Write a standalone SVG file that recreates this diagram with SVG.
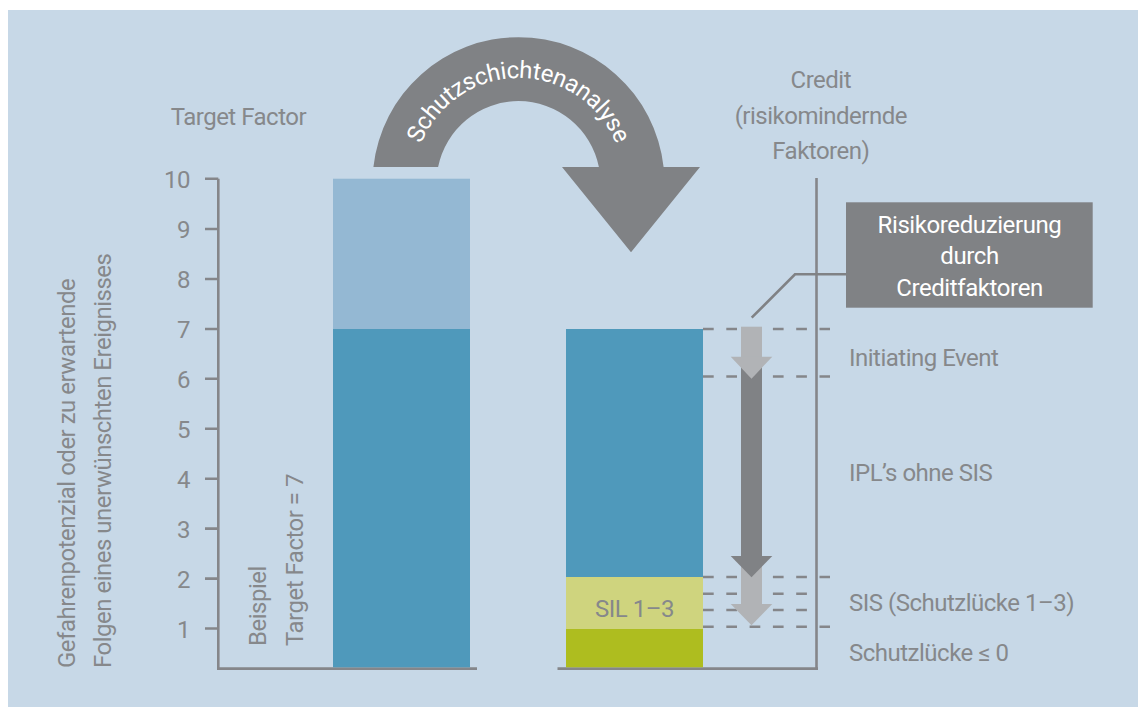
<svg xmlns="http://www.w3.org/2000/svg" width="1138" height="707" viewBox="0 0 1138 707">
<defs>
<style>
.t{font-family:Roboto,"Liberation Sans",sans-serif;font-size:24px;letter-spacing:-0.5px;fill:#86888b}
.w{font-family:Roboto,"Liberation Sans",sans-serif;font-size:24px;letter-spacing:-0.4px;fill:#ffffff}
.ax{stroke:#85868a;stroke-width:2.6;fill:none}
.dash{stroke:#85868a;stroke-width:2.6;fill:none;stroke-dasharray:10.7 12.6}
.dk{fill:#808285}
.lt{fill:#b1b3b6}
</style>
<path id="arcText" d="M 413.5 183 A 105 105 0 0 1 623.5 183"/>
</defs>
<rect x="8" y="10" width="1130" height="697" fill="#c7d8e7"/>

<g id="y-axis-label">
<text class="t" transform="translate(75,668) rotate(-90)">Gefahrenpotenzial oder zu erwartende</text>
<text class="t" transform="translate(111,668) rotate(-90)">Folgen eines unerwünschten Ereignisses</text>
</g>

<g id="left-axis">
<path class="ax" d="M218.3 178.7 V669.5 M205 178.7 H218.3 M205 229 H218.3 M205 279 H218.3 M205 329 H218.3 M205 378.8 H218.3 M205 428.7 H218.3 M205 478.7 H218.3 M205 528.6 H218.3 M205 578.6 H218.3 M205 628.5 H218.3 M217 668.6 H477"/>
<g class="t" text-anchor="end">
<text x="190" y="187.7">10</text>
<text x="190" y="238">9</text>
<text x="190" y="288">8</text>
<text x="190" y="338">7</text>
<text x="190" y="387.8">6</text>
<text x="190" y="437.7">5</text>
<text x="190" y="487.7">4</text>
<text x="190" y="537.6">3</text>
<text x="190" y="587.6">2</text>
<text x="190" y="637.5">1</text>
</g>
<text class="t" x="170.7" y="125">Target Factor</text>
</g>

<g id="left-bar">
<rect x="333" y="178.7" width="137" height="150.3" fill="#94b8d3"/>
<rect x="333" y="329" width="137" height="338.3" fill="#4f99bb"/>
<text class="t" transform="translate(266,646) rotate(-90)">Beispiel</text>
<text class="t" transform="translate(302.5,646) rotate(-90)">Target Factor = 7</text>
</g>

<g id="curved-arrow">
<path class="dk" d="M 373.4 167 A 146 146 0 0 1 663.6 167 L 700 167 L 631 252.3 L 562 167 L 598.9 167 A 82 82 0 0 0 438.1 167 Z"/>
<text class="w"><textPath href="#arcText" startOffset="50%" text-anchor="middle">Schutzschichtenanalyse</textPath></text>
</g>

<g id="right-axis">
<path class="ax" d="M816.5 178 V669.5 M557.5 668.6 H818"/>
<text class="t" x="820.8" y="87.7" text-anchor="middle">Credit</text>
<text class="t" x="820.8" y="124" text-anchor="middle">(risikomindernde</text>
<text class="t" x="820.8" y="159.3" text-anchor="middle">Faktoren)</text>
</g>

<g id="right-bar">
<rect x="566" y="329" width="137" height="248" fill="#4f99bb"/>
<rect x="566" y="577" width="137" height="52" fill="#cfd47e"/>
<rect x="566" y="629" width="137" height="38.3" fill="#aebd1f"/>
<text class="t" x="634.5" y="617.3" text-anchor="middle">SIL 1–3</text>
</g>

<g id="dashed-levels">
<path class="dash" d="M703 329 H830 M703 376.5 H830 M703 577 H830 M703 593.7 H807 M703 610 H807 M703 626.7 H830"/>
</g>

<g id="level-labels">
<text class="t" x="849" y="366">Initiating Event</text>
<text class="t" x="849" y="481">IPL’s ohne SIS</text>
<text class="t" x="849" y="611">SIS (Schutzlücke 1–3)</text>
<text class="t" x="849" y="661">Schutzlücke ≤ 0</text>
</g>

<g id="connectors">
<g id="arrow-sis">
<rect class="lt" x="741" y="556" width="21" height="49"/>
<polygon class="lt" points="730.7,604 772.3,604 751.5,625.3"/>
</g>
<g id="arrow-ipl">
<rect class="dk" x="741" y="357" width="21" height="200"/>
<polygon class="dk" points="730.7,556 772.3,556 751.5,577.3"/>
</g>
<g id="arrow-ie">
<rect class="lt" x="741" y="326.7" width="21" height="31"/>
<polygon class="lt" points="730.7,356.7 772.3,356.7 751.5,378.7"/>
</g>
<path id="leader" d="M751.7 317.7 L795 274.3 H846" stroke="#808285" stroke-width="2.6" fill="none"/>
</g>

<g id="callout">
<rect class="dk" x="846" y="202.3" width="246.7" height="105.4"/>
<text class="w" x="969.5" y="232.5" text-anchor="middle">Risikoreduzierung</text>
<text class="w" x="969.5" y="264" text-anchor="middle">durch</text>
<text class="w" x="969.5" y="296" text-anchor="middle">Creditfaktoren</text>
</g>
</svg>
